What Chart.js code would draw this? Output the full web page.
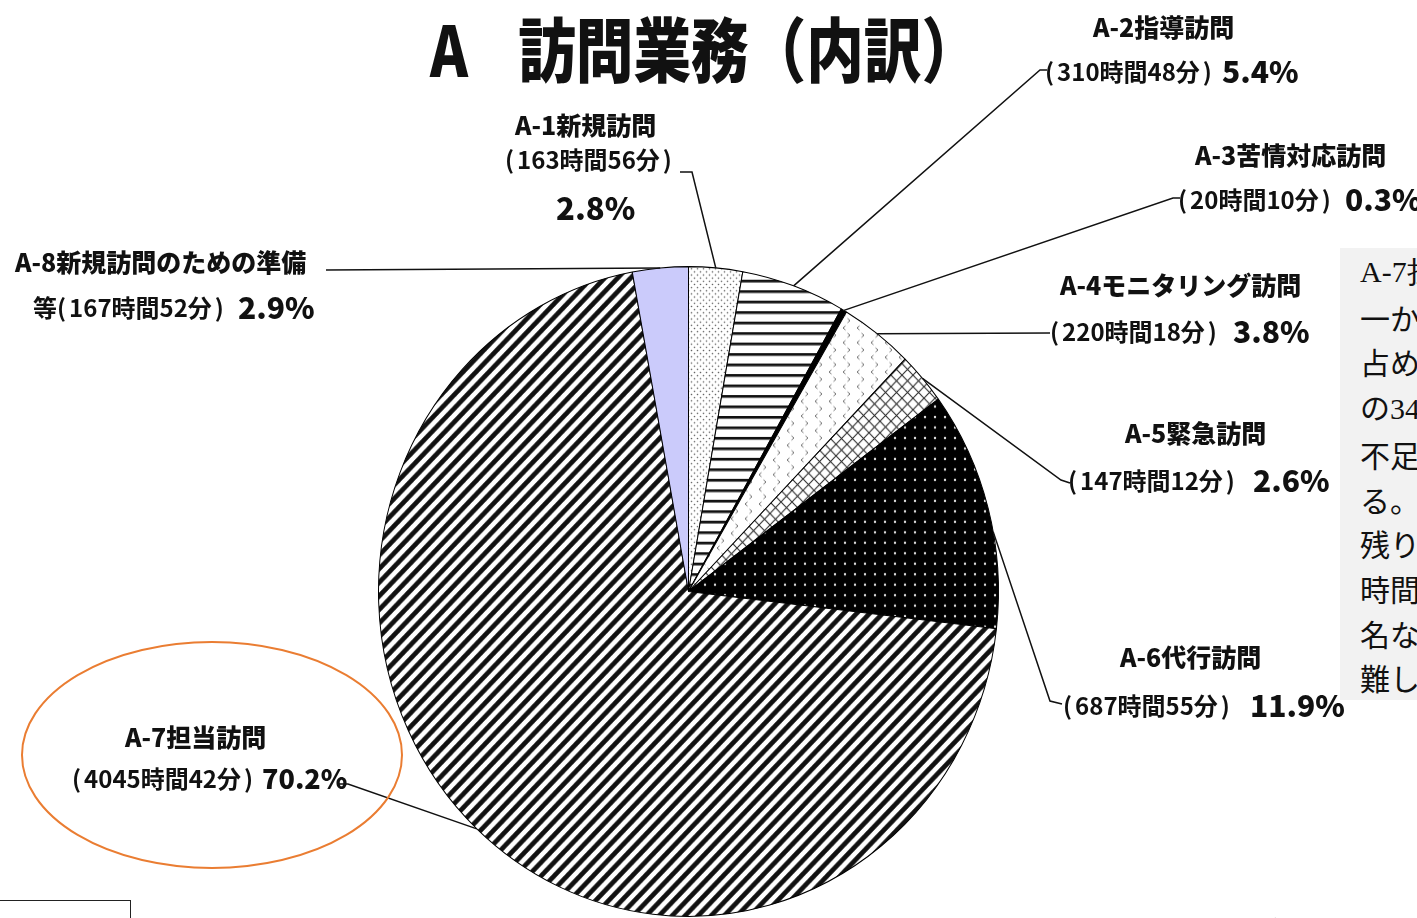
<!DOCTYPE html>
<html lang="ja">
<head>
<meta charset="utf-8">
<title>A 訪問業務（内訳）</title>
<script src="https://cdn.jsdelivr.net/npm/chart.js@4.4.0/dist/chart.umd.min.js"></script>
<style>
    html, body { margin: 0; padding: 0; background: #fff; overflow: hidden; }
    body { width: 1417px; height: 918px; position: relative; }
    #chart { position: absolute; left: 0; top: 0; }
    .note {
        position: absolute; left: 1340px; top: 248px; width: 120px; height: 452px;
        background: #f2f2f2; box-sizing: border-box; padding: 2px 0 0 20px;
        font: 30px/44.7px "Noto Sans CJK JP", sans-serif; color: #111; white-space: nowrap;
    }
    .note .latin { font-family: "Liberation Serif", serif; }
    .stub-box { position: absolute; left: -2px; top: 900px; width: 131px; height: 40px; border: 1.5px solid #222; }
    .ref { position: absolute; left: 1264px; top: 908px; font: 30px "Noto Sans CJK JP", sans-serif; color: #222; white-space: nowrap; }
</style>
</head>
<body>
<canvas id="chart" width="1417" height="918"></canvas>
<div class="note">
    <div class="latin">A-7担</div>
    <div>一か</div>
    <div>占め</div>
    <div>の<span class="latin">34</span></div>
    <div>不足</div>
    <div>る。</div>
    <div>残り</div>
    <div>時間</div>
    <div>名な</div>
    <div>難し</div>
</div>
<div class="stub-box"></div>
<div class="ref">参照</div>
<script>
// visit categories, time spent and share of total
const categories = ['A-1新規訪問', 'A-2指導訪問', 'A-3苦情対応訪問', 'A-4モニタリング訪問',
    'A-5緊急訪問', 'A-6代行訪問', 'A-7担当訪問', 'A-8新規訪問のための準備等'];
const hours = [163, 310, 20, 220, 147, 687, 4045, 167];
const minutes = [56, 48, 10, 18, 12, 55, 42, 52];
const shares = [2.8, 5.4, 0.3, 3.8, 2.6, 11.9, 70.2, 2.9];

const TITLE_MARK = 'A';
const TITLE = '訪問業務（内訳）';

const FONT = '"Noto Sans CJK JP", "Noto Sans CJK SC", sans-serif';
const SQUASH_Y = 1.048; // pie is drawn slightly taller than wide

// callout placement: name / time / percent anchors, leader path (label side first), point on arc
const callouts = [
    { name: [515, 125], time: [505, 160], pct: [556, 208], pctSize: 31, path: [[680, 172], [692, 172]], at: 0.5 },
    { name: [1093, 27], time: [1045, 72], pct: [1222, 72], path: [[1047, 70], [1040, 70]], at: 0.5 },
    { name: [1195, 155], time: [1178, 200], pct: [1345, 200], path: [[1180, 198], [1173, 198]], at: 0.5 },
    { name: [1060, 285], time: [1050, 332], pct: [1233, 332], path: [[1050, 333]], at: 0.5 },
    { name: [1125, 433], time: [1068, 481], pct: [1253, 481], path: [[1070, 483], [1061, 480]], at: 0.5 },
    { name: [1120, 657], time: [1063, 706], pct: [1250, 706], path: [[1062, 704], [1050, 701]], at: 0.6 },
    { name: [125, 737], time: [72, 779], pct: [262, 779], pctSize: 27, path: [[338, 784], [348, 784]], at: 0.5 },
    { name: [15, 262], time: [33, 308], pct: [238, 308], split: 13, path: [[326, 270]], at: 0.5 }
];

function makePattern(w, h, paint) {
    const c = document.createElement('canvas');
    c.width = w; c.height = h;
    const g = c.getContext('2d');
    paint(g, w, h);
    return g.createPattern(c, 'repeat');
}

function dotsPattern() {
    return makePattern(6, 6, (g) => {
        g.fillStyle = '#fff'; g.fillRect(0, 0, 6, 6);
        g.fillStyle = '#666';
        g.beginPath(); g.arc(1.5, 1.5, 0.8, 0, Math.PI * 2); g.fill();
        g.beginPath(); g.arc(4.5, 4.5, 0.8, 0, Math.PI * 2); g.fill();
    });
}

function horizontalPattern() {
    return makePattern(10, 10, (g) => {
        g.fillStyle = '#fff'; g.fillRect(0, 0, 10, 10);
        g.fillStyle = '#111'; g.fillRect(0, 4, 10, 2.6);
    });
}

function chevronPattern() {
    return makePattern(14, 14, (g) => {
        g.fillStyle = '#fff'; g.fillRect(0, 0, 14, 14);
        g.strokeStyle = '#777'; g.lineWidth = 1;
        [[3, 4, 1], [10, 11, -1]].forEach(([x, y, d]) => {
            g.beginPath();
            g.moveTo(x + 2.5 * d, y - 2); g.lineTo(x, y); g.lineTo(x + 2.5 * d, y + 2);
            g.stroke();
        });
    });
}

function crossPattern() {
    return makePattern(11, 11, (g) => {
        g.fillStyle = '#fff'; g.fillRect(0, 0, 11, 11);
        g.strokeStyle = '#333'; g.lineWidth = 1.1;
        g.beginPath();
        g.moveTo(-1, -1); g.lineTo(12, 12);
        g.moveTo(-1, 12); g.lineTo(12, -1);
        g.stroke();
    });
}

function starPattern() {
    return makePattern(10, 10, (g) => {
        g.fillStyle = '#000'; g.fillRect(0, 0, 10, 10);
        g.fillStyle = '#ddd';
        g.beginPath(); g.arc(5, 5, 1.2, 0, Math.PI * 2); g.fill();
    });
}

function diagonalPattern() {
    const s = 13;
    return makePattern(s, s, (g) => {
        g.fillStyle = '#fff'; g.fillRect(0, 0, s, s);
        g.strokeStyle = '#111'; g.lineWidth = 4.6;
        g.beginPath();
        g.moveTo(-2, s + 2); g.lineTo(s + 2, -2);
        g.moveTo(-s / 2, s / 2); g.lineTo(s / 2, -s / 2);
        g.moveTo(s / 2, s * 1.5); g.lineTo(s * 1.5, s / 2);
        g.stroke();
    });
}

const fills = [dotsPattern(), horizontalPattern(), '#000', chevronPattern(),
    crossPattern(), starPattern(), diagonalPattern(), '#cbcbfb'];

function drawText(ctx, text, x, y, size, weight) {
    ctx.font = `${weight || '900'} ${size}px ${FONT}`;
    ctx.fillText(text, x, y);
    return ctx.measureText(text).width;
}

// "(12時間34分)" with narrow, slightly padded brackets
function drawTime(ctx, prefix, body, x, y, size) {
    const gap = 3;
    x += drawText(ctx, prefix, x, y, size, 'bold');
    x += drawText(ctx, '(', x, y, size, 'bold') + gap;
    x += drawText(ctx, body, x, y, size, 'bold') + gap;
    drawText(ctx, ')', x, y, size, 'bold');
}

// stretch the pie vertically around its centre
const squashPlugin = {
    id: 'squash',
    beforeDatasetsDraw(chart) {
        const arc = chart.getDatasetMeta(0).data[0];
        const ctx = chart.ctx;
        ctx.save();
        ctx.translate(arc.x, arc.y);
        ctx.scale(1, SQUASH_Y);
        ctx.translate(-arc.x, -arc.y);
    },
    afterDatasetsDraw(chart) {
        chart.ctx.restore();
    }
};

// title, leader lines, labels and the highlight ring
const calloutPlugin = {
    id: 'callouts',
    afterDraw(chart) {
        const ctx = chart.ctx;
        const arcs = chart.getDatasetMeta(0).data;
        ctx.save();
        ctx.fillStyle = '#111';
        ctx.textBaseline = 'middle';
        ctx.textAlign = 'left';

        // title
        ctx.save();
        ctx.translate(430, 50);
        ctx.scale(0.9, 1.1);
        drawText(ctx, TITLE_MARK, 0, 0, 64);
        drawText(ctx, TITLE, 98, 0, 64);
        ctx.restore();

        ctx.strokeStyle = '#111';
        ctx.lineWidth = 1.5;
        callouts.forEach((c, i) => {
            const arc = arcs[i];
            const a = arc.startAngle + (arc.endAngle - arc.startAngle) * c.at;
            const px = arc.x + Math.cos(a) * arc.outerRadius;
            const py = arc.y + Math.sin(a) * arc.outerRadius * SQUASH_Y;
            ctx.beginPath();
            ctx.moveTo(c.path[0][0], c.path[0][1]);
            c.path.slice(1).forEach(p => ctx.lineTo(p[0], p[1]));
            ctx.lineTo(px, py);
            ctx.stroke();

            let name = categories[i];
            let prefix = '';
            if (c.split) {
                prefix = name.slice(c.split);
                name = name.slice(0, c.split);
            }
            drawText(ctx, name, c.name[0], c.name[1], 25);
            drawTime(ctx, prefix, `${hours[i]}時間${minutes[i]}分`, c.time[0], c.time[1], 24);
            drawText(ctx, `${shares[i].toFixed(1)}%`, c.pct[0], c.pct[1], c.pctSize || 30);
        });

        // highlight ring around the largest item
        ctx.strokeStyle = '#ea7d32';
        ctx.lineWidth = 2;
        ctx.beginPath();
        ctx.ellipse(212, 755, 190, 113, 0, 0, Math.PI * 2);
        ctx.stroke();
        ctx.restore();
    }
};

new Chart(document.getElementById('chart'), {
    type: 'pie',
    data: {
        labels: categories,
        datasets: [{
            data: shares,
            backgroundColor: fills,
            borderColor: '#000',
            borderWidth: 1
        }]
    },
    options: {
        responsive: false,
        animation: false,
        events: [],
        layout: { padding: { left: 378, right: 418, top: 281, bottom: 16 } },
        plugins: {
            legend: { display: false },
            tooltip: { enabled: false }
        }
    },
    plugins: [squashPlugin, calloutPlugin]
});
</script>
</body>
</html>
